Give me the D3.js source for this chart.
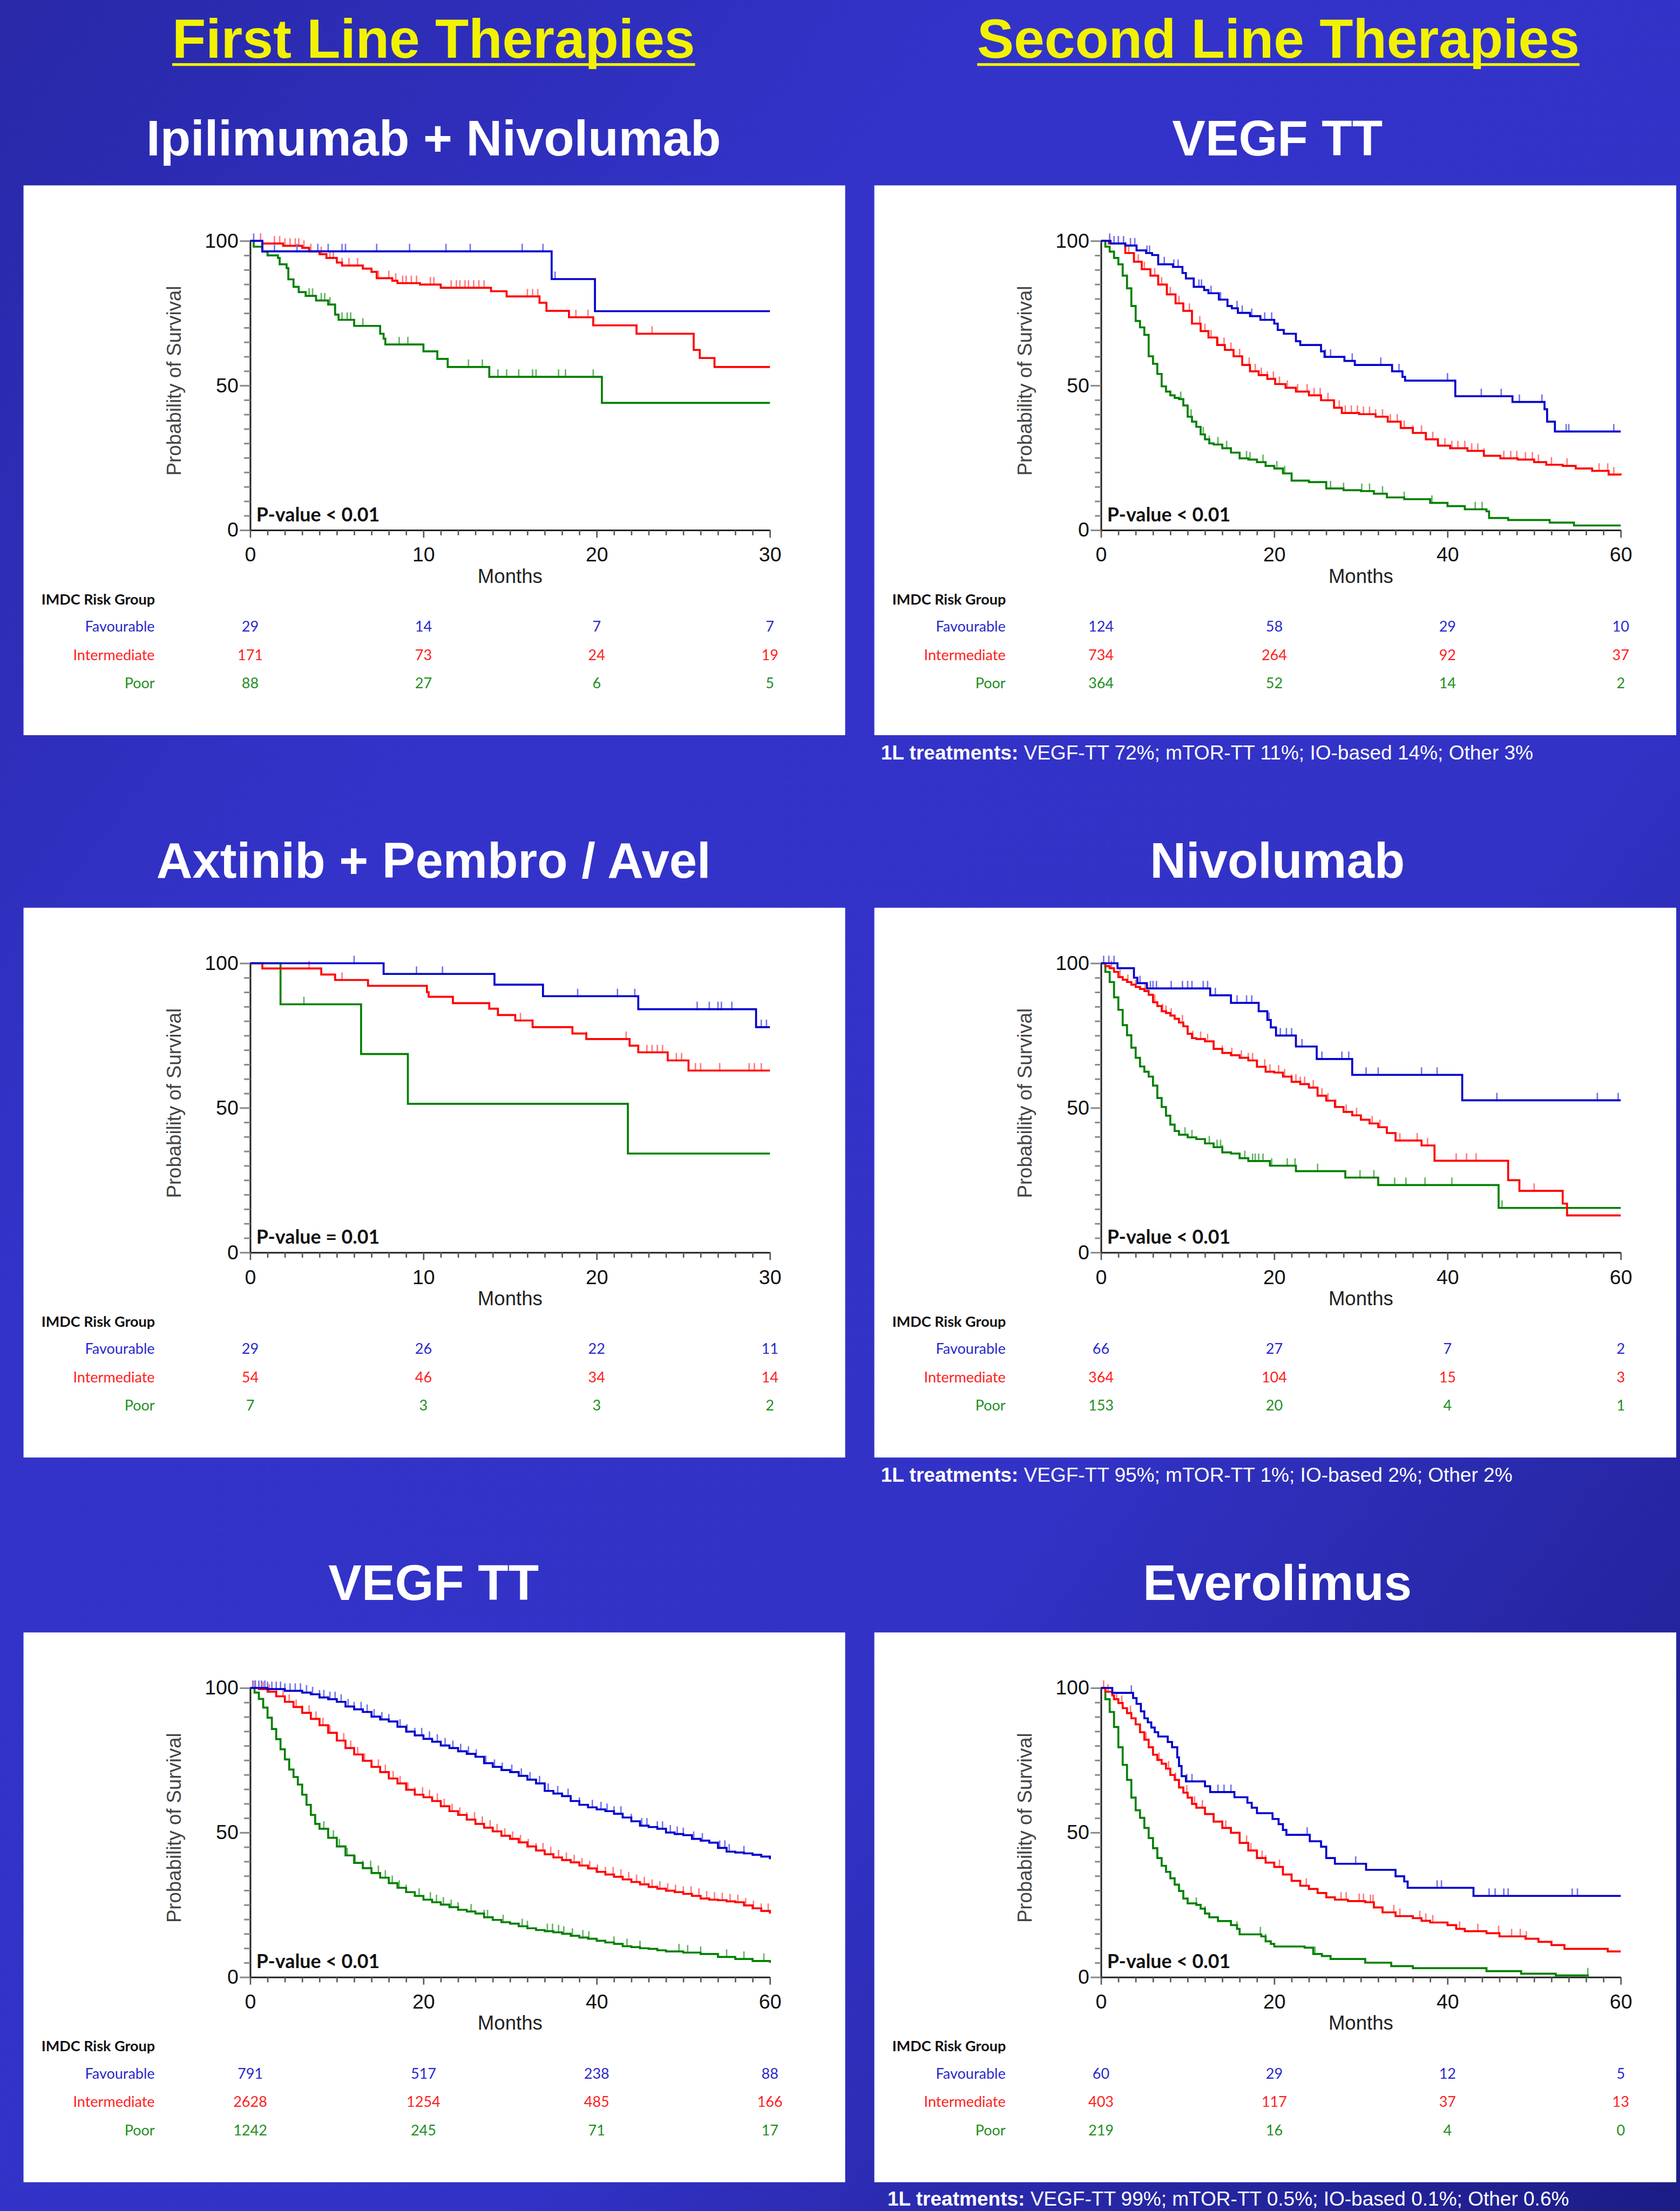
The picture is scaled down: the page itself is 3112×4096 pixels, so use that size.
<!DOCTYPE html>
<html>
<head>
<meta charset="utf-8">
<script src="https://cdn.jsdelivr.net/npm/d3@7"></script>
<style>
  body { margin: 0; background: #2c2cb4; }
  svg { display: block; }
</style>
</head>
<body>
<div id="chart"></div>
<script>
// ---- data: Kaplan-Meier steps [month, % surviving], censor times, numbers at risk ----

// First line: Ipilimumab + Nivolumab
var ipiFav = [[0,100],[0.7,96.4],[17.4,86.8],[19.9,75.7],[30,75.7]];
var ipiFavCens = [0.2,1.4,2.7,3.9,4.5,5.3,5.5,7.3,9.2,11.3,12.7,15.7,16.9,17.6];
var ipiInt = [[0,100],[0.7,99.1],[1.9,98.3],[3.0,97.6],[3.4,96.4],[4.0,95.4],[4.4,94.1],[5.0,92.5],[5.3,91.5],[6.5,90.4],[7.0,89.3],[7.3,87.1],[8.2,86.2],[8.5,85.4],[9.8,84.9],[11.0,83.8],[13.9,82.6],[14.8,80.8],[16.7,78.6],[17.1,75.8],[18.4,73.6],[19.8,70.8],[22.3,67.9],[25.6,62.3],[25.95,59.5],[26.8,56.4],[30,56.4]];
var ipiIntCens = [0.6,1.4,1.7,2.0,2.3,2.6,2.8,3.1,3.5,4.1,4.6,4.8,5.3,5.7,6.2,7.4,8.0,8.4,8.8,9.0,9.3,9.6,10.4,10.6,11.6,11.9,12.1,12.4,12.6,12.9,13.2,13.5,16.0,16.3,16.6,18.8,19.5,23.2];
var ipiPoor = [[0,100],[0.2,98.0],[0.7,96.3],[1.0,95.0],[1.6,94.1],[1.7,91.9],[2.1,90.6],[2.2,86.7],[2.5,84.1],[2.8,82.3],[3.2,81.0],[3.8,79.4],[4.5,78.0],[4.9,74.5],[5.1,72.7],[6.0,70.6],[7.5,67.9],[7.7,66.2],[7.8,64.2],[10.0,61.8],[10.8,59.2],[11.4,56.4],[13.8,53.0],[20.3,44.0],[30,44.0]];
var ipiPoorCens = [3.4,3.6,4.1,4.3,4.6,5.3,5.6,5.8,6.5,8.6,9.1,12.6,13.4,14.3,14.8,15.5,16.3,16.5,17.8,18.2,19.8];

// Second line: VEGF TT
var vegf2Fav = [[0,100],[1.1,99.1],[2.8,98.4],[4.1,96.7],[5.2,95.8],[5.9,95.1],[6.6,91.9],[8.3,91.0],[9.4,88.9],[9.8,87.0],[10.7,84.1],[11.9,83.0],[12.4,81.9],[13.6,79.7],[14.6,77.5],[15.1,76.7],[15.8,75.1],[17.2,74.0],[18.4,72.7],[20.0,71.4],[20.4,69.2],[21.1,67.9],[22.5,65.3],[23.0,64.0],[25.4,61.8],[25.8,59.9],[28.1,58.5],[29.3,57.1],[33.6,54.9],[34.8,53.0],[35.1,51.7],[40.9,46.3],[47.5,44.3],[51.2,41.8],[51.5,37.5],[52.4,34.1],[60,34.1]];
var vegf2FavCens = [1.0,1.5,2.0,2.6,3.4,3.9,5.3,5.6,7.3,8.4,8.9,11.3,11.6,12.7,13.8,15.7,16.3,17.4,18.9,19.7,25.9,26.5,29.0,32.3,34.4,40.0,43.9,46.2,48.3,50.9,53.7,54.0,59.2];
var vegf2Int = [[0,100],[0.9,99.1],[2.8,95.8],[3.8,92.8],[4.7,90.2],[5.7,88.0],[6.6,84.9],[7.6,81.5],[8.6,78.4],[9.5,75.8],[10.5,71.4],[11.5,68.8],[12.4,66.6],[13.4,64.0],[14.3,62.3],[15.3,60.1],[16.3,57.1],[17.2,54.9],[18.2,53.6],[19.2,52.3],[20.1,50.5],[21.3,49.2],[22.5,47.9],[24.0,46.6],[25.4,44.9],[26.9,42.3],[27.8,40.5],[29.8,40.1],[31.7,39.2],[33.1,37.5],[34.6,35.3],[36.0,33.6],[37.5,31.4],[38.9,29.2],[40.3,28.3],[42.3,27.4],[44.2,25.7],[46.1,24.8],[48.1,24.4],[50.0,23.5],[51.4,22.6],[53.3,22.2],[54.8,21.3],[56.7,20.5],[58.6,19.2],[60,19.0]];
var vegf2IntCens = [1.0,2.0,3.2,4.3,5.0,6.2,7.0,8.0,9.0,10.2,11.4,12.0,12.7,13.5,14.2,15.0,16.0,17.1,17.8,18.5,19.2,19.9,20.6,21.5,22.7,23.8,24.6,25.3,26.2,27.5,28.2,28.9,29.6,30.3,31.0,31.7,32.5,33.4,34.2,35.0,36.0,37.0,38.3,39.7,40.5,41.2,42.0,42.8,43.5,44.2,46.5,47.3,48.0,49.0,49.8,50.5,52.0,53.8,57.5,58.5,59.2];
var vegf2Poor = [[0,100],[0.5,98.0],[1.0,96.3],[1.5,94.1],[2.0,91.9],[2.5,88.0],[3.0,83.6],[3.5,77.5],[4.0,72.3],[4.5,70.1],[5.0,67.5],[5.5,60.1],[6.0,57.5],[6.5,54.0],[7.0,49.7],[7.5,47.9],[8.0,46.6],[8.5,45.7],[9.0,45.3],[9.5,43.1],[10.0,39.2],[10.5,37.5],[11.0,35.7],[11.5,33.1],[12.0,31.4],[12.5,30.0],[13.0,29.6],[14.0,28.3],[15.0,26.8],[16.0,24.8],[17.0,24.4],[18.0,23.5],[19.0,22.2],[20.0,21.3],[21.0,19.6],[22.0,17.1],[24.0,16.6],[26.0,14.4],[28.0,13.8],[30.0,13.5],[31.5,12.6],[33.0,11.3],[35.0,10.7],[38.0,9.4],[40.0,8.3],[42.0,7.2],[44.5,6.5],[44.8,4.2],[47.0,3.5],[51.8,2.6],[54.6,1.6],[60,1.6]];
var vegf2PoorCens = [9.2,10.4,11.8,12.5,13.5,14.5,16.8,17.2,18.7,20.3,21.2,26.5,28.0,30.1,31.0,32.5,35.0,38.2,43.2,44.0];

// First line: Axitinib + Pembro / Avel
var axiFav = [[0,100],[7.7,96.3],[14.1,92.6],[16.9,88.6],[22.4,84.1],[29.2,77.9],[30,77.9]];
var axiFavCens = [6.0,9.6,11.1,18.9,21.2,22.2,25.8,26.5,27.0,27.2,27.8,29.5,29.8];
var axiInt = [[0,100],[0.7,98.2],[4.1,96.1],[4.9,94.2],[6.8,92.2],[10.2,90.0],[10.3,88.4],[11.7,86.2],[13.8,84.3],[14.3,82.1],[15.3,80.2],[16.3,77.9],[18.6,75.7],[19.4,73.8],[21.9,71.5],[22.4,69.2],[24.1,66.4],[25.3,62.9],[30,62.9]];
var axiIntCens = [3.4,5.3,15.6,19.4,21.7,22.9,23.2,23.5,23.8,24.1,24.6,24.9,25.7,26.0,27.1,28.8,29.1,29.5];
var axiPoor = [[0,100],[1.75,85.8],[6.4,68.6],[9.1,51.4],[21.8,34.2],[30,34.2]];
var axiPoorCens = [3.1];

// Second line: Nivolumab
var nivoFav = [[0,100],[1.9,98.3],[3.8,95.0],[4.2,93.1],[5.3,91.3],[12.6,88.9],[15.0,86.3],[18.2,83.4],[19.2,80.4],[19.6,77.8],[20.2,75.0],[22.5,71.2],[24.9,66.9],[29.0,61.4],[41.7,52.6],[60,52.6]];
var nivoFavCens = [0.3,0.9,1.5,4.5,5.7,6.0,6.4,8.1,9.4,10.0,10.5,11.8,12.3,13.2,15.7,16.8,17.4,19.4,20.7,21.4,22.0,23.2,25.5,27.8,28.6,30.6,32.0,37.0,38.8,45.7,57.3,59.7];
var nivoInt = [[0,100],[0.5,99.0],[1.0,98.3],[1.5,97.0],[2.0,95.2],[2.5,94.3],[3.0,93.5],[3.5,92.6],[4.0,91.8],[4.5,91.1],[5.0,90.4],[5.5,89.1],[6.0,86.5],[6.5,85.2],[7.0,83.4],[7.5,82.8],[8.0,81.9],[8.5,80.8],[9.0,79.5],[9.5,78.2],[10.0,75.6],[10.5,74.1],[11.0,73.8],[12.0,73.0],[13.0,70.4],[14.0,69.0],[15.0,68.2],[16.0,67.3],[17.0,66.4],[18.0,64.2],[19.0,62.5],[20.0,62.2],[21.0,60.8],[22.0,59.0],[23.0,58.2],[24.0,57.0],[25.0,54.2],[26.0,52.5],[27.0,50.3],[28.0,48.6],[29.0,47.4],[30.0,45.9],[31.0,44.6],[32.0,43.3],[33.0,41.3],[34.0,38.7],[37.0,37.0],[38.5,31.7],[47.0,25.0],[48.3,21.3],[53.3,16.9],[53.8,12.8],[60,12.8]];
var nivoIntCens = [1.2,2.2,3.1,4.0,5.1,6.2,7.1,7.5,8.1,9.4,10.0,10.6,11.5,12.3,13.0,14.0,15.1,16.2,17.0,17.5,18.9,19.5,20.5,21.2,22.0,22.5,23.0,23.5,24.5,25.5,26.2,27.1,28.3,29.5,31.3,32.2,34.5,36.5,37.7,41.0,42.2,43.3,50.0];
var nivoPoor = [[0,100],[0.5,97.0],[1.0,93.5],[1.5,88.2],[2.0,83.9],[2.5,78.6],[3.0,75.1],[3.5,70.8],[4.0,67.3],[4.5,64.3],[5.0,62.5],[5.5,60.8],[6.0,57.7],[6.5,53.4],[7.0,50.3],[7.5,47.3],[8.0,44.2],[8.5,42.0],[9.0,40.7],[10.0,39.8],[11.0,39.2],[12.0,37.7],[13.0,36.4],[14.0,34.6],[15.0,34.2],[16.0,32.6],[17.0,31.6],[19.5,30.0],[22.5,28.1],[28.2,25.9],[32.0,23.3],[45.9,15.4],[60,15.4]];
var nivoPoorCens = [9.7,10.5,12.5,13.4,13.8,14.0,16.6,17.5,17.8,18.2,18.7,19.7,21.5,22.4,25.0,29.9,31.5,33.9,35.2,37.4,40.5,46.3];

// First line: VEGF TT
var vegf1Fav = [[0,100],[2,99.6],[4,99.0],[6,98.4],[7,97.8],[8,96.7],[9,96.1],[10,95.2],[11,93.6],[12,92.6],[13,91.7],[14,90.1],[15,89.1],[16,88.4],[17,86.6],[18,84.9],[19,83.6],[20,82.4],[21,81.4],[22,80.1],[23,79.2],[24,78.1],[25,77.2],[26,76.2],[27,74.0],[28,72.7],[29,71.6],[30,70.9],[31,69.6],[32,68.3],[33,67.0],[34,64.4],[35,63.5],[36,62.6],[37,60.9],[38,59.6],[39,58.7],[40,58.0],[41,57.4],[42,56.5],[43,55.2],[44,53.9],[45,52.4],[46,51.9],[47,51.3],[48,50.0],[49,49.5],[50,49.1],[51,47.8],[52,47.2],[53,46.5],[54,44.7],[55,43.4],[56,43.1],[57,42.8],[58,42.3],[59,41.7],[60,40.8]];
var vegf1FavCens = [0.3,0.6,1.0,1.3,1.7,2.0,2.5,3.0,3.5,4.0,4.6,5.2,5.8,6.5,7.2,8.0,8.5,9.2,9.8,10.5,11.3,12.0,12.8,13.5,14.3,15.2,16.0,17.3,18.1,19.0,19.8,20.7,21.6,22.5,23.4,24.3,25.2,26.1,27.2,28.2,29.1,30.2,31.3,32.3,33.4,34.4,35.5,36.7,38.0,39.5,40.5,41.2,42.0,42.8,44.0,45.2,45.8,47.0,47.6,48.5,49.3,50.0,51.2,52.2,54.2,54.8,55.3,57.0];
var vegf1Int = [[0,100],[1,99.6],[2,98.7],[3,97.1],[4,95.2],[5,93.4],[6,91.4],[7,89.3],[8,87.1],[9,84.5],[10,81.8],[11,79.2],[12,77.0],[13,74.8],[14,72.7],[15,70.9],[16,68.7],[17,67.0],[18,64.8],[19,63.1],[20,62.2],[21,60.9],[22,59.1],[23,57.4],[24,56.1],[25,54.5],[26,53.0],[27,51.7],[28,50.4],[29,48.9],[30,47.8],[31,46.6],[32,45.2],[33,43.8],[34,42.5],[35,41.4],[36,40.5],[37,39.7],[38,38.6],[39,37.6],[40,36.4],[41,35.5],[42,34.7],[43,33.8],[44,32.9],[45,32.1],[46,31.2],[47,30.6],[48,29.9],[49,29.4],[50,28.8],[51,28.1],[52,27.2],[53,26.8],[54,26.6],[55,26.2],[56,25.9],[57,24.8],[58,23.8],[59,22.9],[60,22.0]];
var vegf1IntCens = [0.5,1.0,1.5,2.2,3.0,3.8,4.5,5.3,6.0,6.8,7.6,8.4,9.2,10.0,10.8,11.6,12.4,13.2,14.0,14.8,15.6,16.5,17.3,18.2,19.0,19.9,20.7,21.6,22.4,23.3,24.2,25.0,25.9,26.8,27.7,28.5,29.4,30.3,31.2,32.1,33.0,33.8,34.7,35.6,36.5,37.4,38.3,39.2,40.1,41.0,41.9,42.8,43.7,44.6,45.5,46.4,47.3,48.2,49.1,50.0,50.9,51.8,52.7,53.6,54.5,55.4,56.3,57.2,58.1,59.0,59.8];
var vegf1Poor = [[0,100],[0.5,98.4],[1,96.2],[1.5,93.2],[2,89.7],[2.5,85.8],[3,82.3],[3.5,78.8],[4,75.3],[4.5,71.8],[5,69.2],[5.5,66.6],[6,63.1],[6.5,59.6],[7,56.1],[7.5,53.0],[8,51.3],[9,48.2],[10,45.2],[11,42.1],[12,39.5],[13,37.7],[14,36.0],[15,34.4],[16,32.5],[17,30.9],[18,29.4],[19,28.1],[20,26.8],[21,25.9],[22,25.1],[23,24.2],[24,23.3],[25,22.7],[26,22.0],[27,20.7],[28,19.8],[29,19.0],[30,18.5],[31,17.6],[32,16.9],[33,16.3],[34,15.9],[35,15.5],[36,15.0],[37,14.3],[38,13.7],[39,13.3],[40,12.6],[41,12.0],[42,11.5],[43,10.7],[44,10.4],[45,10.0],[46,9.8],[47,9.3],[48,8.9],[50,8.5],[52,8.0],[54,7.0],[56,6.3],[58,5.6],[60,5.0]];
var vegf1PoorCens = [8.5,9.0,9.6,10.3,11.2,12.1,13.0,13.9,14.8,15.6,16.4,17.2,18.0,19.5,20.8,21.5,22.3,23.2,24.0,25.5,27.0,27.4,29.2,31.4,32.0,34.3,34.9,35.6,36.2,37.2,38.4,39.1,42.0,43.5,45.0,49.5,50.5,52.0,55.0,57.0,59.3];

// Second line: Everolimus
var everoFav = [[0,100],[1.3,98.3],[3.7,96.5],[4.1,94.5],[4.6,91.9],[5.0,89.5],[5.4,88.1],[5.8,86.3],[6.2,84.7],[6.6,83.2],[7.7,81.3],[8.2,79.5],[8.8,76.0],[9.0,73.0],[9.3,69.5],[9.8,67.7],[12.0,66.0],[12.6,64.0],[15.4,62.2],[16.9,60.3],[17.4,58.6],[18.0,56.7],[19.8,54.7],[20.5,52.9],[21.0,50.9],[21.4,49.2],[24.1,47.0],[25.4,45.1],[26.0,41.2],[27.0,39.2],[30.6,37.1],[34.0,34.9],[35.0,33.1],[35.4,30.9],[43.0,28.1],[60,28.1]];
var everoFavCens = [3.5,9.9,10.5,13.5,14.2,15.0,23.8,29.4,38.8,39.3,44.8,45.5,46.5,47.0,54.4,55.0];
var everoInt = [[0,100],[0.5,98.7],[1.3,97.4],[1.5,96.1],[2,94.8],[2.5,93.0],[3,91.3],[3.5,89.5],[4,87.4],[4.5,84.7],[5,82.1],[5.5,79.5],[6,76.9],[6.5,75.1],[7,73.8],[7.5,72.1],[8,69.9],[8.5,68.2],[9,65.6],[9.5,63.8],[10,62.1],[10.5,59.9],[11,58.6],[12,56.4],[13,53.8],[14,51.6],[15,49.9],[16,46.4],[17,43.8],[18,41.2],[19,39.6],[20,38.1],[21,35.5],[22,33.3],[23,31.6],[24,30.5],[25,29.1],[26,27.6],[27,26.8],[28.5,26.3],[30.5,25.9],[31.5,24.1],[32.5,22.4],[34,21.1],[36,20.4],[37,19.5],[38,18.9],[40,18.0],[41,16.7],[42,15.9],[44.5,15.2],[46,14.1],[49,13.3],[50.5,12.2],[52,11.1],[53.5,9.8],[58.5,8.9],[60,8.9]];
var everoIntCens = [0.3,0.8,1.8,2.4,3.4,5.2,6.7,7.8,8.6,9.9,10.8,11.7,13.0,14.0,14.4,16.8,17.3,18.6,19.0,20.6,22.0,23.7,27.7,28.3,29.8,30.3,31.1,31.4,33.8,34.5,36.8,37.5,38.3,41.4,43.5,45.9,47.4,48.4,49.1];
var everoPoor = [[0,100],[0.5,96.1],[1,91.7],[1.5,86.5],[2,79.5],[2.5,73.4],[3,68.2],[3.5,62.1],[4,57.7],[4.5,55.1],[5,51.6],[5.5,48.1],[6,44.6],[6.5,41.2],[7,38.5],[7.5,36.4],[8,34.2],[8.5,32.0],[9,29.8],[9.5,27.2],[10,25.5],[11,25.0],[11.5,23.7],[12,22.0],[12.5,20.7],[13.5,19.4],[15,18.0],[15.7,16.7],[16,14.8],[18.5,14.1],[19,12.4],[19.6,11.5],[20,10.6],[23.5,10.2],[24.5,8.0],[25.5,7.3],[26.5,6.3],[30.5,5.0],[33.5,3.8],[36,3.1],[44.5,2.1],[48.5,1.2],[52.5,0.6],[56.3,0.6]];
var everoPoorCens = [11.0,12.0,15.7,18.4,19.0,24.7,56.2];

// numbers at risk (favourable, intermediate, poor) at the labelled x ticks
var riskIpi = [[29,14,7,7],[171,73,24,19],[88,27,6,5]];
var riskVegf2 = [[124,58,29,10],[734,264,92,37],[364,52,14,2]];
var riskAxi = [[29,26,22,11],[54,46,34,14],[7,3,3,2]];
var riskNivo = [[66,27,7,2],[364,104,15,3],[153,20,4,1]];
var riskVegf1 = [[791,517,238,88],[2628,1254,485,166],[1242,245,71,17]];
var riskEvero = [[60,29,12,5],[403,117,37,13],[219,16,4,0]];

var groupNames = ["Favourable", "Intermediate", "Poor"];
var sectionTitles = ["First Line Therapies", "Second Line Therapies"];
var footnotes = [
    " VEGF-TT 72%; mTOR-TT 11%; IO-based 14%; Other 3%",
    " VEGF-TT 95%; mTOR-TT 1%; IO-based 2%; Other 2%",
    " VEGF-TT 99%; mTOR-TT 0.5%; IO-based 0.1%; Other 0.6%"
];

var panels = [
    {row: 0, col: 0, title: "Ipilimumab + Nivolumab", maxT: 30, p: "P-value < 0.01", risk: riskIpi,
     curves: [ipiPoor, ipiInt, ipiFav], cens: [ipiPoorCens, ipiIntCens, ipiFavCens]},
    {row: 0, col: 1, title: "VEGF TT", maxT: 60, p: "P-value < 0.01", risk: riskVegf2,
     curves: [vegf2Poor, vegf2Int, vegf2Fav], cens: [vegf2PoorCens, vegf2IntCens, vegf2FavCens]},
    {row: 1, col: 0, title: "Axtinib + Pembro / Avel", maxT: 30, p: "P-value = 0.01", risk: riskAxi,
     curves: [axiPoor, axiInt, axiFav], cens: [axiPoorCens, axiIntCens, axiFavCens]},
    {row: 1, col: 1, title: "Nivolumab", maxT: 60, p: "P-value < 0.01", risk: riskNivo,
     curves: [nivoPoor, nivoInt, nivoFav], cens: [nivoPoorCens, nivoIntCens, nivoFavCens]},
    {row: 2, col: 0, title: "VEGF TT", maxT: 60, p: "P-value < 0.01", risk: riskVegf1,
     curves: [vegf1Poor, vegf1Int, vegf1Fav], cens: [vegf1PoorCens, vegf1IntCens, vegf1FavCens]},
    {row: 2, col: 1, title: "Everolimus", maxT: 60, p: "P-value < 0.01", risk: riskEvero,
     curves: [everoPoor, everoInt, everoFav], cens: [everoPoorCens, everoIntCens, everoFavCens]}
];

// ---- layout (reference pixel space, scaled by the viewBox) ----
var W = 3572, H = 4701;
var colX = [50, 1859], colW = [1747, 1705], colMid = [922, 2716];
var rowY = [394, 1930, 3471], panelH = 1169;
var titleY = [330, 1866, 3402];
var footY = [1615, 3151, 4690], footX = [1873, 1873, 1887];
var plotL = 482, plotR = 1587, plotT = 118, plotB = 733;

var lineColor = ["#008000", "#ff0000", "#0000cc"];     // poor, intermediate, favourable
var tickColor = ["#62b262", "#ff7a7a", "#7272ea"];
var textColor = ["#1f8f1f", "#ff2020", "#2828cc"];
var sans = "'Liberation Sans', Arial, sans-serif";
var narrow = "Lato, 'Open Sans', sans-serif";

var svg = d3.select("#chart").append("svg")
    .attr("width", 3112)
    .attr("height", 4096)
    .attr("viewBox", "0 0 " + W + " " + H);

var grad = svg.append("defs").append("linearGradient")
    .attr("id", "bg").attr("x1", 0).attr("y1", 0).attr("x2", 1).attr("y2", 1);
grad.append("stop").attr("offset", "0%").attr("stop-color", "#2828a8");
grad.append("stop").attr("offset", "30%").attr("stop-color", "#3333ca");
grad.append("stop").attr("offset", "65%").attr("stop-color", "#3232c6");
grad.append("stop").attr("offset", "100%").attr("stop-color", "#1c1c86");

svg.append("rect").attr("width", W).attr("height", H).attr("fill", "url(#bg)");

// section headers, yellow and underlined
sectionTitles.forEach(function(t, i) {
    var txt = svg.append("text")
        .attr("x", colMid[i] + (i === 1 ? 2 : 0))
        .attr("y", 123)
        .attr("text-anchor", "middle")
        .attr("font-family", sans)
        .attr("font-weight", "bold")
        .attr("font-size", 117)
        .attr("fill", "#f2f200")
        .text(t);
    var bb = txt.node().getBBox();
    svg.append("rect")
        .attr("x", bb.x).attr("y", 134)
        .attr("width", bb.width).attr("height", 6)
        .attr("fill", "#f2f200");
});

// 1L treatment footnotes under the second line panels
footnotes.forEach(function(t, i) {
    var f = svg.append("text")
        .attr("x", footX[i]).attr("y", footY[i])
        .attr("font-family", sans).attr("font-size", 42.5)
        .attr("fill", "#fff");
    f.append("tspan").attr("font-weight", "bold").text("1L treatments:");
    f.append("tspan").text(t);
});

function survAt(data, t) {
    var s = data[0][1];
    data.forEach(function(d) { if (d[0] <= t) s = d[1]; });
    return s;
}

function drawPanel(p) {
    svg.append("text")
        .attr("x", colMid[p.col]).attr("y", titleY[p.row])
        .attr("text-anchor", "middle")
        .attr("font-family", sans).attr("font-weight", "bold").attr("font-size", 106)
        .attr("fill", "#fff")
        .text(p.title);

    var g = svg.append("g")
        .attr("transform", "translate(" + colX[p.col] + "," + rowY[p.row] + ")");
    g.append("rect").attr("width", colW[p.col]).attr("height", panelH).attr("fill", "#fff");

    var x = d3.scaleLinear().domain([0, p.maxT]).range([plotL, plotR]);
    var y = d3.scaleLinear().domain([0, 100]).range([plotB, plotT]);
    var step = p.maxT / 30;
    var labelT = [0, p.maxT / 3, p.maxT * 2 / 3, p.maxT];

    // y axis
    var yAxis = d3.axisLeft(y)
        .tickValues(d3.range(0, 101, 5))
        .tickSize(13).tickSizeOuter(0)
        .tickFormat(function(d) { return d % 50 === 0 ? d : ""; });
    var ya = g.append("g").attr("transform", "translate(" + plotL + ",0)").call(yAxis);
    ya.attr("font-family", sans).attr("font-size", 43);
    ya.select(".domain").attr("stroke", "#222").attr("stroke-width", 3.5);
    ya.selectAll(".tick line")
        .attr("stroke", "#8a8a8a").attr("stroke-width", 3.5)
        .attr("x2", function(d) { return d % 50 === 0 ? -22 : -13; });
    ya.selectAll(".tick text").attr("x", -25).attr("fill", "#111");

    // x axis
    var xAxis = d3.axisBottom(x)
        .tickValues(d3.range(0, p.maxT + step / 2, step))
        .tickSize(11).tickSizeOuter(0)
        .tickFormat(function(d) { return labelT.indexOf(d) >= 0 ? d : ""; });
    var xa = g.append("g").attr("transform", "translate(0," + plotB + ")").call(xAxis);
    xa.attr("font-family", sans).attr("font-size", 43);
    xa.select(".domain").attr("stroke", "#222").attr("stroke-width", 3.5);
    xa.selectAll(".tick line")
        .attr("stroke", "#555").attr("stroke-width", 3)
        .attr("y2", function(d) { return labelT.indexOf(d) >= 0 ? 16 : 11; });
    xa.selectAll(".tick text").attr("y", 67).attr("dy", null).attr("fill", "#111");

    g.append("text")
        .attr("x", (plotL + plotR) / 2).attr("y", plotB + 112)
        .attr("text-anchor", "middle")
        .attr("font-family", sans).attr("font-size", 42).attr("fill", "#222")
        .text("Months");

    g.append("text")
        .attr("transform", "translate(" + (plotL - 147) + "," + ((plotT + plotB) / 2 - 10) + ") rotate(-90)")
        .attr("text-anchor", "middle")
        .attr("font-family", sans).attr("font-size", 42).attr("fill", "#444")
        .text("Probability of Survival");

    // survival curves with censor ticks
    var line = d3.line()
        .x(function(d) { return x(d[0]); })
        .y(function(d) { return y(d[1]); })
        .curve(d3.curveStepAfter);

    p.curves.forEach(function(c, i) {
        g.append("g").selectAll("line")
            .data(p.cens[i])
            .join("line")
            .attr("x1", function(t) { return x(t); })
            .attr("x2", function(t) { return x(t); })
            .attr("y1", function(t) { return y(survAt(c, t)) - 16; })
            .attr("y2", function(t) { return y(survAt(c, t)) + 2; })
            .attr("stroke", tickColor[i])
            .attr("stroke-width", 3);
        g.append("path")
            .datum(c)
            .attr("d", line)
            .attr("fill", "none")
            .attr("stroke", lineColor[i])
            .attr("stroke-width", 4.2);
    });

    g.append("text")
        .attr("x", plotL + 13).attr("y", plotB - 19)
        .attr("font-family", narrow).attr("font-weight", "bold").attr("font-size", 41)
        .attr("fill", "#111")
        .text(p.p);

    // numbers at risk table
    g.append("text")
        .attr("x", 38).attr("y", plotB + 158)
        .attr("font-family", narrow).attr("font-weight", "bold").attr("font-size", 31)
        .attr("fill", "#111")
        .text("IMDC Risk Group");

    groupNames.forEach(function(name, i) {
        var ci = 2 - i;
        var yy = plotB + 216 + i * 60;
        g.append("text")
            .attr("x", 279).attr("y", yy)
            .attr("text-anchor", "end")
            .attr("font-family", narrow).attr("font-size", 31)
            .attr("fill", textColor[ci])
            .text(name);
        g.append("g").selectAll("text")
            .data(p.risk[i])
            .join("text")
            .attr("x", function(d, j) { return x(labelT[j]); })
            .attr("y", yy)
            .attr("text-anchor", "middle")
            .attr("font-family", narrow).attr("font-size", 31)
            .attr("fill", textColor[ci])
            .text(function(d) { return d; });
    });
}

panels.forEach(drawPanel);
</script>
</body>
</html>
